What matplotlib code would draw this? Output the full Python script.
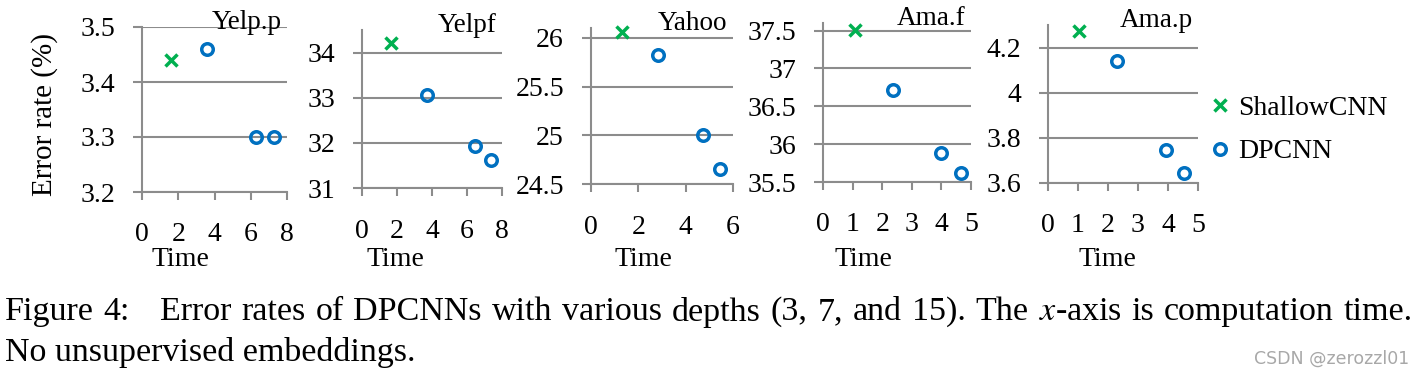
import matplotlib
matplotlib.use('Agg')
import matplotlib.pyplot as plt
from matplotlib.ticker import FuncFormatter
from matplotlib.transforms import blended_transform_factory

plt.rcParams['font.family'] = ['Liberation Serif', 'DejaVu Serif']
plt.rcParams['mathtext.fontset'] = 'stix'

## data
datasets = ['Yelp.p', 'Yelpf', 'Yahoo', 'Ama.f', 'Ama.p']
shallow_time = [1.6, 1.64, 1.3, 1.08, 1.03]
shallow_err = [3.44, 34.21, 26.06, 37.51, 4.272]
dpcnn_time = [[3.6, 6.3, 7.3],
              [3.73, 6.46, 7.37],
              [2.81, 4.74, 5.47],
              [2.38, 3.99, 4.65],
              [2.29, 3.92, 4.53]]
dpcnn_err = [[3.46, 3.30, 3.30],
             [33.07, 31.92, 31.61],
             [25.82, 25.0, 24.65],
             [36.72, 35.88, 35.62],
             [4.139, 3.744, 3.643]]
yticks = [[3.2, 3.3, 3.4, 3.5],
          [31, 32, 33, 34],
          [24.5, 25, 25.5, 26],
          [35.5, 36, 36.5, 37, 37.5],
          [3.6, 3.8, 4.0, 4.2]]
ylims = [(3.2, 3.5), (31, 34.5), (24.5, 26.1), (35.5, 37.6), (3.6, 4.3)]
xmax = [8, 8, 6, 5, 5]
xstep = [2, 2, 2, 1, 1]

caption1 = ('Figure 4:  Error rates of DPCNNs with various depths (3, 7, and 15). '
            'The $x$-axis is computation time.')
caption2 = 'No unsupervised embeddings.'

# axes boxes in pixels: left, right, top, bottom
W, H = 1422, 378
boxes = [(142, 287, 27, 192),
         (362, 502, 30, 188),
         (591, 733, 28, 184),
         (823, 971, 23, 182),
         (1048, 1198, 25, 183)]
time_x = [180, 395, 643, 863, 1107]   # centre of "Time" label, px
xtick_pad = [16, 17, 17, 16, 16]

green = '#00B050'
blue = '#0070C0'
gray = '#8c8c8c'

fig = plt.figure(figsize=(W / 100, H / 100), dpi=100)

for i in range(5):
    l, r, t, b = boxes[i]
    ax = fig.add_axes([l / W, (H - b) / H, (r - l) / W, (b - t) / H])
    ax.set_xlim(0, xmax[i])
    ax.set_ylim(*ylims[i])
    ax.set_yticks(yticks[i])
    ax.set_xticks(range(0, xmax[i] + 1, xstep[i]))
    ax.yaxis.set_major_formatter(FuncFormatter(lambda v, p: '%g' % v))
    ax.grid(axis='y', color=gray, linewidth=1.5)
    ax.set_axisbelow(True)
    for s in ['top', 'right']:
        ax.spines[s].set_visible(False)
    for s in ['left', 'bottom']:
        ax.spines[s].set_color(gray)
        ax.spines[s].set_linewidth(1.5)
    ax.tick_params(axis='y', length=6.5, width=1.5, color=gray, pad=13, labelsize=20)
    ax.tick_params(axis='x', length=5.5, width=1.5, color=gray, pad=xtick_pad[i], labelsize=20)

    ax.set_xlabel('Time', fontsize=20)
    tr = blended_transform_factory(fig.transFigure, fig.transFigure)
    ax.xaxis.set_label_coords(time_x[i] / W, 1 - 259 / H, transform=tr)
    ax.xaxis.label.set_va('center')

    ax.plot(shallow_time[i], shallow_err[i], linestyle='none', marker='x',
            color=green, markersize=8, mew=2.5, label='ShallowCNN', clip_on=False)
    ax.plot(dpcnn_time[i], dpcnn_err[i], linestyle='none', marker='o',
            markerfacecolor='none', markeredgecolor=blue, markersize=8.3, mew=2.5,
            label='DPCNN', clip_on=False)

    ax.annotate(datasets[i], xy=(1, 1), xycoords='axes fraction',
                xytext=(-4, -1.5), textcoords='offset points',
                ha='right', va='baseline', fontsize=19.5)

    if i == 4:
        ax.legend(loc='center left', bbox_to_anchor=(1212 / W, 1 - 130 / H),
                  bbox_transform=fig.transFigure, frameon=False, fontsize=20,
                  handlelength=0.6, handletextpad=0.35, borderpad=0,
                  borderaxespad=0, labelspacing=0.65)

fig.text(45 / W, 1 - 115 / H, 'Error rate (%)', rotation=90, fontsize=21,
         ha='center', va='center')

# first caption line is justified, like the LaTeX original
renderer = fig.canvas.get_renderer()
words = caption1.split()
texts = [fig.text(0, 1 - 312 / H, w, fontsize=24.5, ha='left', va='center') for w in words]
widths = [tx.get_window_extent(renderer).width for tx in texts]
left, right = 5, 1413
gap_w = [3 if words[k].endswith(':') else 1 for k in range(len(words) - 1)]
unit = (right - left - sum(widths)) / sum(gap_w)
x = left
for k, tx in enumerate(texts):
    tx.set_x(x / W)
    if k < len(gap_w):
        x += widths[k] + unit * gap_w[k]

fig.text(5 / W, 1 - 352 / H, caption2, fontsize=24.5, ha='left', va='center')
fig.text(1409 / W, 1 - 359 / H, 'CSDN @zerozzl01', fontsize=12.5,
         family='DejaVu Sans', color='#a8a8a8', ha='right', va='center')

fig.savefig('out.png', dpi=100)
